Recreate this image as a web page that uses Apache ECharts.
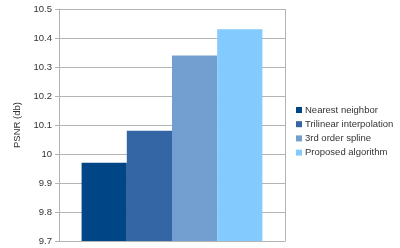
<!DOCTYPE html>
<html><head><meta charset="utf-8">
<script src="https://cdn.jsdelivr.net/npm/echarts@6/dist/echarts.min.js"></script>
<style>html,body{margin:0;padding:0;background:#fff}#c{width:400px;height:248px}</style>
</head><body><div id="c"></div>
<script>
const categories = [''];
const seriesNames = ['Nearest neighbor', 'Trilinear interpolation', '3rd order spline', 'Proposed algorithm'];
const seriesValues = [9.97, 10.08, 10.34, 10.43];
const colors = ['#004586', '#3465a4', '#729fcf', '#83caff'];
const yMin = 9.7, yMax = 10.5, yStep = 0.1;

const chart = echarts.init(document.getElementById('c'));
chart.setOption({
  animation: false,
  grid: {left: 59, right: 115, top: 9, bottom: 7},
  legend: {
    orient: 'vertical', left: 296, top: 105, padding: 0,
    itemWidth: 6, itemHeight: 6, itemGap: 4.2,
    icon: 'rect',
    textStyle: {fontFamily: 'Liberation Sans', fontSize: 9.5, lineHeight: 10, color: '#333', padding: [0, 0, 0, -2]},
    data: seriesNames
  },
  xAxis: {
    type: 'category', data: categories,
    axisLine: {lineStyle: {color: '#b3b3b3'}},
    axisTick: {show: false}, axisLabel: {show: false},
    splitLine: {show: true, lineStyle: {color: '#b3b3b3'}}
  },
  yAxis: {
    type: 'value', min: yMin, max: yMax, interval: yStep,
    name: 'PSNR (db)', nameLocation: 'middle', nameGap: 37, nameRotate: 90,
    nameTextStyle: {fontFamily: 'Liberation Sans', fontSize: 9.5, color: '#333'},
    axisLine: {show: true, lineStyle: {color: '#b3b3b3'}},
    axisTick: {show: true, length: 4, lineStyle: {color: '#b3b3b3'}},
    axisLabel: {fontFamily: 'Liberation Sans', fontSize: 9.5, color: '#333', margin: 7,
      formatter: v => String(parseFloat(v.toFixed(1)))},
    splitLine: {lineStyle: {color: '#b3b3b3'}}
  },
  series: seriesNames.map((n, i) => ({
    name: n, type: 'bar', data: [seriesValues[i]],
    barGap: '0%', barCategoryGap: '20%',
    itemStyle: {color: colors[i]}
  }))
});
</script></body></html>
